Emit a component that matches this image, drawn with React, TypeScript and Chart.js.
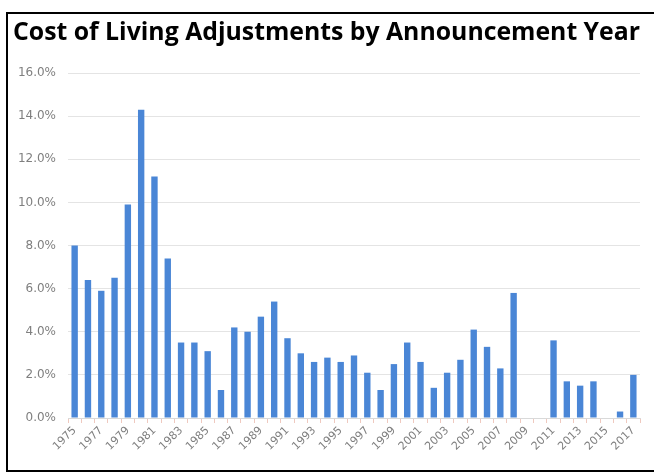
import React, { useEffect, useRef } from 'react';
import { Chart, registerables } from 'chart.js';
Chart.register(...registerables);

const years: string[] = [
  '1975', '1976', '1977', '1978', '1979', '1980', '1981', '1982', '1983', '1984',
  '1985', '1986', '1987', '1988', '1989', '1990', '1991', '1992', '1993', '1994',
  '1995', '1996', '1997', '1998', '1999', '2000', '2001', '2002', '2003', '2004',
  '2005', '2006', '2007', '2008', '2009', '2010', '2011', '2012', '2013', '2014',
  '2015', '2016', '2017',
];

const colaPct: number[] = [
  8.0, 6.4, 5.9, 6.5, 9.9, 14.3, 11.2, 7.4, 3.5, 3.5,
  3.1, 1.3, 4.2, 4.0, 4.7, 5.4, 3.7, 3.0, 2.6, 2.8,
  2.6, 2.9, 2.1, 1.3, 2.5, 3.5, 2.6, 1.4, 2.1, 2.7,
  4.1, 3.3, 2.3, 5.8, 0.0, 0.0, 3.6, 1.7, 1.5, 1.7,
  0.0, 0.3, 2.0,
];

const yMin = 0;
const yMax = 16;
const yStep = 2;
const titleText = 'Cost of Living Adjustments by Announcement Year';

export default function App() {
  const ref = useRef<HTMLCanvasElement>(null);
  useEffect(() => {
    document.body.style.margin = '0';
    const chart = new Chart(ref.current!, {
      type: 'bar',
      data: {
        labels: years,
        datasets: [
          {
            data: colaPct,
            backgroundColor: '#4a86d6',
            barPercentage: 0.48,
            categoryPercentage: 1,
          },
        ],
      },
      options: {
        animation: false,
        responsive: false,
        layout: { padding: { left: 13, right: 14, top: 0, bottom: 0 } },
        plugins: {
          legend: { display: false },
          tooltip: { enabled: false },
          title: {
            display: true,
            text: titleText,
            align: 'start',
            color: '#000000',
            font: { family: '"Open Sans", "DejaVu Sans", sans-serif', size: 25, weight: 'bold', lineHeight: 1.2 },
            padding: { top: 18, bottom: 25 },
          },
        },
        scales: {
          x: {
            grid: {
              display: true,
              drawOnChartArea: false,
              tickLength: 5,
              tickColor: '#efc9bf',
            },
            border: { color: '#d9d9d9' },
            ticks: {
              autoSkip: false,
              maxRotation: 45,
              minRotation: 45,
              padding: 1,
              color: '#7f7f7f',
              font: { family: '"DejaVu Sans", sans-serif', size: 11 },
              callback: (_v: any, i: number) => (i % 2 === 0 ? years[i] : ''),
            },
            afterFit: (s: any) => {
              s.height = 58;
            },
          },
          y: {
            min: yMin,
            max: yMax,
            ticks: {
              stepSize: yStep,
              padding: 12,
              color: '#7f7f7f',
              font: { family: '"DejaVu Sans", sans-serif', size: 12 },
              callback: (v: any) => Number(v).toFixed(1) + '%',
            },
            grid: { color: '#e4e4e4', drawTicks: false },
            border: { display: false },
            afterFit: (s: any) => {
              s.width = 55;
            },
          },
        },
      },
    });
    return () => chart.destroy();
  }, []);
  return (
    <div style={{ position: 'relative', width: 654, height: 476, overflow: 'hidden', background: '#fff' }}>
      <canvas ref={ref} width={654} height={476} style={{ display: 'block' }} />
      <div
        style={{
          position: 'absolute',
          left: 6,
          top: 12,
          width: 660,
          height: 460,
          border: '2px solid #000',
          borderRight: 'none',
          boxSizing: 'border-box',
          pointerEvents: 'none',
        }}
      />
    </div>
  );
}
